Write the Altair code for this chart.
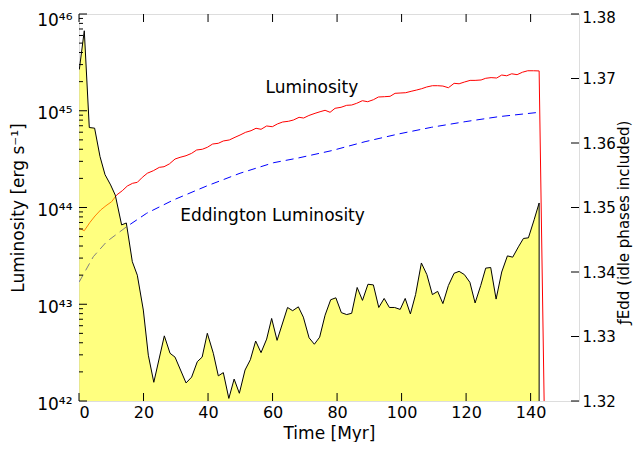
import altair as alt
import pandas as pd

# ---- data ----
# black curve / yellow fill (right axis, f_Edd)
f_time = [0.1, 1.64, 3.19, 4.84, 6.51, 8.06, 9.80, 11.26, 13.21, 14.67, 16.53, 18.08, 19.94, 21.49,
          23.19, 26.45, 28.22, 29.77, 33.18, 34.91, 36.68, 38.17, 39.78, 41.64, 43.19, 44.74, 46.45,
          48.09, 49.71, 51.47, 53.12, 54.76, 56.43, 58.17, 59.72, 61.40, 64.65, 66.23, 68.0, 69.55,
          71.32, 72.96, 74.60, 76.28, 78.02, 79.63, 81.33, 82.98, 84.53, 86.23, 87.88, 89.58, 91.26,
          92.93, 94.60, 96.22, 97.83, 99.57, 101.12, 102.73, 104.34, 106.14, 107.84, 109.55, 111.19,
          112.81, 114.51, 116.28, 117.83, 119.47, 121.18, 122.79, 124.53, 126.08, 127.63, 129.30,
          131.04, 132.81, 134.45, 136.22, 137.77, 139.32, 141.09, 142.64, 142.64]
f_edd = [1.3714, 1.3774, 1.3624, 1.3623, 1.3579, 1.3551, 1.3535, 1.3519, 1.3473, 1.3476, 1.3416,
         1.3395, 1.3341, 1.3271, 1.3229, 1.3301, 1.3274, 1.3268, 1.3228, 1.3237, 1.3261, 1.3268,
         1.3305, 1.3274, 1.3239, 1.3244, 1.3204, 1.3234, 1.3212, 1.3248, 1.3264, 1.3293, 1.3275,
         1.3296, 1.3328, 1.3294, 1.3345, 1.3340, 1.3346, 1.3330, 1.3298, 1.3288, 1.3299, 1.3333,
         1.3357, 1.3360, 1.3337, 1.3334, 1.3336, 1.3376, 1.3356, 1.3381, 1.3380, 1.3345, 1.3359,
         1.3345, 1.3345, 1.3342, 1.3359, 1.3335, 1.3365, 1.3414, 1.3396, 1.3365, 1.3370, 1.3351,
         1.3379, 1.3398, 1.3401, 1.3396, 1.3384, 1.3352, 1.3379, 1.3406, 1.3407, 1.3358, 1.3400,
         1.3425, 1.3423, 1.3439, 1.3452, 1.3453, 1.3481, 1.3507, 1.3200]

# red: Luminosity
lum_time = [0.1, 1.64, 3.41, 4.96, 6.70, 8.37, 10.11, 11.66, 13.43, 14.98, 16.62, 18.08, 19.63, 21.18,
            23.04, 24.90, 26.36, 28.0, 29.77, 31.32, 33.18, 34.91, 36.47, 38.23, 39.78, 41.43, 43.19,
            44.74, 46.60, 48.37, 49.92, 51.66, 53.33, 54.88, 56.43, 58.17, 59.94, 61.49, 63.13, 64.90,
            66.45, 68.22, 69.64, 71.26, 73.18, 74.73, 76.28, 77.83, 79.38, 81.24, 82.98, 84.53, 86.08,
            87.84, 89.49, 91.26, 92.81, 94.67, 96.43, 97.98, 99.53, 101.27, 102.95, 104.68, 106.23,
            107.78, 109.55, 111.19, 112.81, 114.51, 116.28, 117.83, 119.47, 121.24, 122.79, 124.65,
            126.08, 127.75, 129.49, 131.04, 132.59, 134.14, 135.81, 137.46, 139.10, 140.87, 142.64, 144.19]
lum_val = [6.10e43, 5.76e43, 7.03e43, 8.17e43, 9.42e43, 1.044e44, 1.148e44, 1.346e44, 1.492e44, 1.668e44,
           1.779e44, 1.82e44, 2.05e44, 2.26e44, 2.40e44, 2.60e44, 2.64e44, 2.82e44, 3.17e44, 3.30e44,
           3.43e44, 3.63e44, 3.93e44, 4.00e44, 4.19e44, 4.53e44, 4.61e44, 4.87e44, 4.99e44, 5.32e44,
           5.61e44, 5.99e44, 6.22e44, 6.59e44, 6.43e44, 6.96e44, 6.84e44, 7.30e44, 7.65e44, 7.78e44,
           8.02e44, 8.55e44, 8.41e44, 8.93e44, 9.41e44, 9.77e44, 1.011e45, 9.64e44, 1.06e45, 1.086e45,
           1.138e45, 1.146e45, 1.194e45, 1.27e45, 1.24e45, 1.30e45, 1.387e45, 1.397e45, 1.41e45,
           1.514e45, 1.525e45, 1.536e45, 1.588e45, 1.638e45, 1.69e45, 1.76e45, 1.815e45, 1.815e45,
           1.80e45, 1.73e45, 1.92e45, 1.90e45, 1.98e45, 2.06e45, 2.06e45, 2.08e45, 2.165e45, 2.20e45,
           2.18e45, 2.34e45, 2.30e45, 2.41e45, 2.36e45, 2.50e45, 2.59e45, 2.59e45, 2.58e45, 1.0e42]

# blue dashed: Eddington luminosity
edd_time = [0.1, 4.43, 8.56, 14.76, 20.96, 29.24, 39.57, 49.92, 60.25, 68.0, 78.33, 88.68, 99.01,
            109.33, 119.69, 130.02, 142.64]
edd_val = [1.71e43, 3.10e43, 4.43e43, 6.33e43, 8.71e43, 1.195e44, 1.668e44, 2.26e44, 2.90e44, 3.25e44,
           3.87e44, 4.79e44, 5.75e44, 6.75e44, 7.71e44, 8.68e44, 9.64e44]

labels_text = ["Luminosity", "Eddington Luminosity"]
labels_time = [72.2, 60.0]
labels_lum = [1.71e45, 8.17e43]

x_ticks = [0, 20, 40, 60, 80, 100, 120, 140]
left_major = [1e42, 1e43, 1e44, 1e45, 1e46]
left_minor = [k * 10.0 ** n for n in range(42, 46) for k in range(2, 10)]
right_ticks = [1.32, 1.33, 1.34, 1.35, 1.36, 1.37, 1.38]

W, H = 500, 387
FONT = "DejaVu Sans"

xscale = alt.Scale(domain=[0, 155], nice=False)
xaxis = alt.Axis(values=x_ticks, ticks=False, domain=False, grid=False, labelFontSize=16,
                 labelPadding=3, title="Time [Myr]", titleFontSize=17, titleFontWeight="normal",
                 titlePadding=5, labelFont=FONT, titleFont=FONT, labelColor="black", titleColor="black")
lscale = alt.Scale(type="log", domain=[1e42, 1e46], nice=False)
rscale = alt.Scale(domain=[1.32, 1.38], nice=False, zero=False)

sup = ("datum.value < 5e42 ? '10⁴²' : datum.value < 5e43 ? '10⁴³' : datum.value < 5e44 ? '10⁴⁴' : "
       "datum.value < 5e45 ? '10⁴⁵' : '10⁴⁶'")
laxis = alt.Axis(orient="left", values=left_major, labelExpr=sup, ticks=False, domain=False, grid=False,
                 labelFontSize=17, labelPadding=7,
                 labelOffset={"condition": {"test": "datum.value > 5e45", "value": 6}, "value": 3},
                 title="Luminosity [erg s⁻¹]",
                 titleFontSize=17, titleFontWeight="normal", titlePadding=9, labelFont=FONT,
                 titleFont=FONT, labelColor="black", titleColor="black")
raxis = alt.Axis(orient="right", values=right_ticks, format=".2f", ticks=False, domain=False, grid=False,
                 labelFontSize=15, labelPadding=3,
                 labelOffset={"condition": {"test": "datum.value > 1.379", "value": 3}, "value": 0},
                 title="ƒEdd (idle phases included)", titleFontSize=15,
                 titleFontWeight="normal", titleAngle=270, titleBaseline="top", titlePadding=1,
                 titleY=208, labelFont=FONT, titleFont=FONT, labelColor="black", titleColor="black")

lum_df = pd.DataFrame({"t": lum_time, "L": lum_val})
edd_df = pd.DataFrame({"t": edd_time, "L": edd_val})
f_df = pd.DataFrame({"t": f_time, "f": f_edd})
lab_df = pd.DataFrame({"t": labels_time, "L": labels_lum, "s": labels_text})

red = alt.Chart(lum_df).mark_line(color="#ff0000", strokeWidth=1, clip=True).encode(
    x=alt.X("t:Q", scale=xscale, axis=xaxis),
    y=alt.Y("L:Q", scale=lscale, axis=laxis))
blue = alt.Chart(edd_df).mark_line(color="#0000ff", strokeWidth=1, strokeDash=[8, 5], clip=True).encode(
    x=alt.X("t:Q", scale=xscale, axis=xaxis),
    y=alt.Y("L:Q", scale=lscale, axis=laxis))
texts = alt.Chart(lab_df).mark_text(font=FONT, fontSize=17, color="black", align="center",
                                    baseline="middle").encode(
    x=alt.X("t:Q", scale=xscale, axis=xaxis),
    y=alt.Y("L:Q", scale=lscale, axis=laxis),
    text="s:N")
left = alt.layer(red, blue, texts)

area = alt.Chart(f_df).mark_area(color="#ffff00", opacity=0.5, clip=True).encode(
    x=alt.X("t:Q", scale=xscale, axis=xaxis),
    y=alt.Y("f:Q", scale=rscale, axis=raxis),
    y2=alt.Y2(datum=1.32))
black = alt.Chart(f_df).mark_line(color="black", strokeWidth=1, clip=True).encode(
    x=alt.X("t:Q", scale=xscale, axis=xaxis),
    y=alt.Y("f:Q", scale=rscale, axis=raxis))
rt = alt.Chart(pd.DataFrame({"v": right_ticks})).mark_rule(color="black", strokeWidth=1).encode(
    y=alt.Y("v:Q", scale=rscale, axis=raxis),
    x=alt.value(W), x2=alt.value(W - 8))
right = alt.layer(area, black, rt)

xt_df = pd.DataFrame({"t": x_ticks})
xb = alt.Chart(xt_df).mark_rule(color="black", strokeWidth=1).encode(
    x=alt.X("t:Q", scale=xscale, axis=xaxis), y=alt.value(H), y2=alt.value(H - 8))
xtp = alt.Chart(xt_df).mark_rule(color="black", strokeWidth=1).encode(
    x=alt.X("t:Q", scale=xscale, axis=xaxis), y=alt.value(0), y2=alt.value(8))
lmaj = alt.Chart(pd.DataFrame({"v": left_major})).mark_rule(color="black", strokeWidth=1).encode(
    y=alt.Y("v:Q", scale=lscale, axis=None), x=alt.value(0), x2=alt.value(8))
lmin = alt.Chart(pd.DataFrame({"v": left_minor})).mark_rule(color="black", strokeWidth=1).encode(
    y=alt.Y("v:Q", scale=lscale, axis=None), x=alt.value(0), x2=alt.value(4))
ticks = alt.layer(lmaj, lmin, xb, xtp)

chart = alt.layer(left, right, ticks).resolve_scale(y="independent").properties(
    width=W, height=H,
    autosize=alt.AutoSizeParams(type="none"),
    padding={"left": 71, "top": 6, "right": 54, "bottom": 41},
    background="white",
).configure_view(stroke="black", strokeWidth=1).configure(font=FONT)

chart.save("out.html", embed_options={"renderer": "svg", "actions": False})
